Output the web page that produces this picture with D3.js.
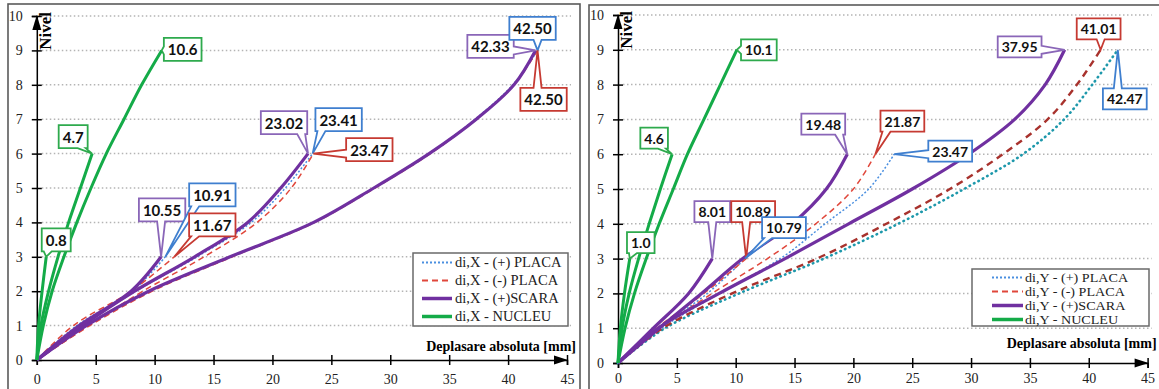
<!DOCTYPE html>
<html>
<head>
<meta charset="utf-8">
<script src="https://cdn.jsdelivr.net/npm/d3@7"></script>
<style>
body{margin:0;background:#fff;}
svg{display:block;}
</style>
</head>
<body>
<svg id="chart"></svg>
<script>
// levels (floors) and axis ticks
const levels = [0,1,2,3,4,5,6,7,8,9];
const xTicks = [0,5,10,15,20,25,30,35,40,45];
const yTicks = [0,1,2,3,4,5,6,7,8,9,10];

const seriesKeys = ["placaPos","placaNeg","scara","nucleu"];
const seriesNames = ["(+) PLACA","(-) PLACA","(+)SCARA","NUCLEU"];

// displacements [mm] per level, for the 3, 6 and 9 level structures
// direction X
const xPlacaPos = [
  [0,3.4,8.1,10.91],
  [0,3.8,8.4,13.6,18.2,21.1,23.41],
  [0,4.2,9.5,16.4,23.5,28.6,33.3,37.2,40.4,42.50]
];
const xPlacaNeg = [
  [0,3.1,8.0,11.67],
  [0,4.4,9.0,14.2,18.7,21.6,23.47],
  [0,4.5,9.8,16.6,23.6,28.7,33.4,37.3,40.5,42.50]
];
const xScara = [
  [0,3.6,8.0,10.55],
  [0,3.9,8.3,13.4,17.9,20.7,23.02],
  [0,4.2,9.5,16.4,23.5,28.6,33.3,37.3,40.5,42.33]
];
const xNucleu = [
  [0,0.15,0.45,0.8],
  [0,0.35,1.0,1.8,2.7,3.7,4.7],
  [0,0.55,1.3,2.3,3.4,4.6,5.9,7.4,8.9,10.6]
];
// direction Y
const yPlacaPos = [
  [0,3.5,7.6,10.79],
  [0,3.7,8.6,13.8,17.6,21.3,23.47],
  [0,4.0,10.3,17.5,23.8,29.4,34.4,37.9,40.3,42.47]
];
const yPlacaNeg = [
  [0,3.3,7.3,10.89],
  [0,3.6,8.0,12.7,16.8,20.0,21.87],
  [0,3.8,9.7,16.9,22.8,28.2,32.7,36.5,39.0,41.01]
];
const yScara = [
  [0,3.0,6.0,8.01],
  [0,3.5,7.1,10.6,14.8,17.7,19.48],
  [0,3.4,8.6,14.2,19.6,25.0,29.8,33.7,36.3,37.95]
];
const yNucleu = [
  [0,0.2,0.55,1.0],
  [0,0.35,0.95,1.75,2.65,3.6,4.6],
  [0,0.6,1.4,2.4,3.5,4.7,5.9,7.3,8.7,10.1]
];

// styles
const STYLE = {
  placaPos:{color:"#4a8fe0",width:1.5,dash:"2,2",box:"#3f7fcf"},
  placaNeg:{color:"#e0473b",width:1.5,dash:"6,4",box:"#c63a32"},
  scara:{color:"#7030a0",width:3.2,dash:null,box:"#8a66b8"},
  nucleu:{color:"#14ab48",width:3,dash:null,box:"#2eaa4d"}
};

// callout box centre offsets from the pointed value: [series, structure, dx, dy]
const leftCallouts = [
  ["nucleu",0,10,-17],["nucleu",1,-19,-17],["nucleu",2,21,-1],
  ["scara",0,1,-47],["placaPos",0,47,-62],["placaNeg",0,38,-32],
  ["scara",1,-24,-31],["placaPos",1,26,-34],["placaNeg",1,56,-4],
  ["scara",2,-45,-4],["placaPos",2,-5,-22],["placaNeg",2,6,49]
];
const rightCallouts = [
  ["nucleu",0,11,-16],["nucleu",1,-18,-16],["nucleu",2,22,0],
  ["scara",0,0,-47],["placaNeg",0,7,-47],["placaPos",0,39,-31],
  ["scara",1,-24,-30],["placaNeg",1,27,-33],["placaPos",1,56,-3],
  ["scara",2,-45,-3],["placaNeg",2,-2,-21],["placaPos",2,7,49]
];

const W = 1159, H = 389;
const svg = d3.select("#chart").attr("width",W).attr("height",H);

const panels = [
  {
    dir:"X",
    data:{placaPos:xPlacaPos,placaNeg:xPlacaNeg,scara:xScara,nucleu:xNucleu},
    frame:[8,4,572,400],
    xRange:[36.8,567],
    yRange:[360,16],
    xPad:9,
    legend:{x:413,y:253,w:155,h:73,first:9.5,row:18,font:14.5,sx:1,s1:9,s2:39,tx:42},
    titleDy:-9,
    callouts:leftCallouts,
    boxH:23, boxFont:15,
    heavy9:false
  },
  {
    dir:"Y",
    data:{placaPos:yPlacaPos,placaNeg:yPlacaNeg,scara:yScara,nucleu:yNucleu},
    frame:[589,5,572,400],
    xRange:[618,1147.6],
    yRange:[363,15],
    xPad:5,
    legend:{x:972,y:269,w:177,h:57,first:8.5,row:14,font:12.5,sx:1.13,s1:20,s2:51,tx:53},
    titleDy:-15,
    callouts:rightCallouts,
    boxH:21, boxFont:14,
    heavy9:true
  }
];

function calloutPath(x0,y0,w,h,tx,ty){
  const x1 = x0+w, y1 = y0+h;
  const cx = x0+w/2, cy = y0+h/2;
  const nx = (tx-cx)/(w/2), ny = (ty-cy)/(h/2);
  const hb = 4;
  const clamp = (v,a,b)=>Math.max(a,Math.min(b,v));
  let pts;
  if(Math.abs(ny) >= Math.abs(nx)){
    const bx = clamp(tx,x0+hb+2,x1-hb-2);
    if(ny > 0){
      pts = [[x0,y0],[x1,y0],[x1,y1],[bx+hb,y1],[tx,ty],[bx-hb,y1],[x0,y1]];
    } else {
      pts = [[x0,y0],[bx-hb,y0],[tx,ty],[bx+hb,y0],[x1,y0],[x1,y1],[x0,y1]];
    }
  } else {
    const by = clamp(ty,y0+hb+2,y1-hb-2);
    if(nx > 0){
      pts = [[x0,y0],[x1,y0],[x1,by-hb],[tx,ty],[x1,by+hb],[x1,y1],[x0,y1]];
    } else {
      pts = [[x0,y0],[x1,y0],[x1,y1],[x0,y1],[x0,by+hb],[tx,ty],[x0,by-hb]];
    }
  }
  return "M" + pts.map(p=>p.join(",")).join("L") + "Z";
}

panels.forEach(p=>{

  const g = svg.append("g");

  // frame
  g.append("rect")
    .attr("x",p.frame[0]).attr("y",p.frame[1])
    .attr("width",p.frame[2]).attr("height",p.frame[3])
    .attr("fill","none").attr("stroke","#5a5a5a").attr("stroke-width",1.6);

  const x = d3.scaleLinear().domain([0,45]).range(p.xRange);
  const y = d3.scaleLinear().domain([0,10]).range(p.yRange);

  // dotted grid
  g.append("g")
    .selectAll("line")
    .data(yTicks.filter(d=>d>0))
    .join("line")
    .attr("x1",x(0)+5).attr("x2",x(45)+4)
    .attr("y1",d=>y(d)).attr("y2",d=>y(d))
    .attr("stroke","#b4b4b4").attr("stroke-width",1.5)
    .attr("stroke-dasharray","1.5,2.5");

  // axes
  const yAxis = g.append("g")
    .attr("transform",`translate(${x(0)},0)`)
    .call(d3.axisLeft(y).tickValues(yTicks).tickSizeOuter(0).tickSize(5).tickPadding(9));
  yAxis.selectAll(".tick line").attr("x1",-5).attr("x2",5);

  const xAxis = g.append("g")
    .attr("transform",`translate(0,${y(0)})`)
    .call(d3.axisBottom(x).tickValues(xTicks).tickSizeOuter(0).tickSize(5).tickPadding(p.xPad));
  xAxis.selectAll(".tick line").attr("y1",-5).attr("y2",5);

  [yAxis,xAxis].forEach(a=>{
    a.select(".domain").attr("stroke","#000").attr("stroke-width",1.5);
    a.selectAll(".tick line").attr("stroke","#000").attr("stroke-width",1.5);
    a.selectAll(".tick text")
      .attr("fill","#222")
      .style("font-family","'Liberation Serif','Times New Roman',serif")
      .style("font-size","14px");
  });

  // arrow heads
  g.append("path")
    .attr("d",`M${x(0)},${y(10)-1}L${x(0)-4.5},${y(10)+14}L${x(0)+4.5},${y(10)+14}Z`)
    .attr("fill","#000");
  g.append("path")
    .attr("d",`M${x(45)+1},${y(0)}L${x(45)-13},${y(0)-4.5}L${x(45)-13},${y(0)+4.5}Z`)
    .attr("fill","#000");

  // axis titles
  g.append("text")
    .attr("transform",`translate(${x(0)+14},${y(10)-4}) rotate(-90)`)
    .attr("text-anchor","end")
    .style("font-family","'Liberation Serif','Times New Roman',serif")
    .style("font-weight","bold")
    .style("font-size","17px")
    .text("Nivel");

  g.append("text")
    .attr("x",x(45)+9).attr("y",y(0)+p.titleDy)
    .attr("text-anchor","end")
    .style("font-family","'Liberation Serif','Times New Roman',serif")
    .style("font-weight","bold")
    .style("font-size","14px")
    .text("Deplasare absoluta [mm]");

  // curves
  const line = d3.line()
    .x(d=>x(d[0]))
    .y(d=>y(d[1]))
    .curve(d3.curveCatmullRom.alpha(0.5));

  seriesKeys.forEach(key=>{
    const st = STYLE[key];
    p.data[key].forEach((vals,i)=>{
      const pts = vals.map((v,k)=>[v,levels[k]]);
      let color = st.color, width = st.width, dash = st.dash, cap = "butt";
      if(p.heavy9 && i===2 && key==="placaPos"){
        color = "#1d98ab"; width = 2.6; dash = "0.5,4.5"; cap = "round";
      }
      if(p.heavy9 && i===2 && key==="placaNeg"){
        color = "#a8322d"; width = 2.4; dash = "7,5";
      }
      g.append("path")
        .datum(pts)
        .attr("d",line)
        .attr("fill","none")
        .attr("stroke",color)
        .attr("stroke-width",width)
        .attr("stroke-linecap",cap)
        .attr("stroke-dasharray",dash);
    });
  });

  // legend
  const L = p.legend;
  const lg = g.append("g");
  lg.append("rect")
    .attr("x",L.x).attr("y",L.y).attr("width",L.w).attr("height",L.h)
    .attr("fill","#fff").attr("stroke","#6a6a6a").attr("stroke-width",1.5);
  seriesKeys.forEach((key,i)=>{
    const st = STYLE[key];
    const cy = L.y + L.first + L.row*i;
    lg.append("line")
      .attr("x1",L.x+L.s1).attr("x2",L.x+L.s2)
      .attr("y1",cy).attr("y2",cy)
      .attr("stroke",st.color)
      .attr("stroke-width",key==="scara"||key==="nucleu"?3.5:1.8)
      .attr("stroke-dasharray",st.dash);
    lg.append("text")
      .attr("transform",`translate(${L.x+L.tx},${cy+L.font*0.32}) scale(${L.sx},1)`)
      .style("font-family","'Liberation Serif','Times New Roman',serif")
      .style("font-size",L.font+"px")
      .attr("fill","#222")
      .text(`di,${p.dir} - ${seriesNames[i]}`);
  });

  // callouts
  p.callouts.forEach(c=>{
    const [key,i,dx,dy] = c;
    const vals = p.data[key][i];
    const top = vals[vals.length-1];
    const lev = levels[vals.length-1];
    const tx = x(top), ty = y(lev);
    const label = top.toFixed(key==="nucleu"?1:2);
    const cg = g.append("g");
    const path = cg.append("path");
    const t = cg.append("text")
      .attr("x",tx+dx).attr("y",ty+dy)
      .attr("text-anchor","middle")
      .attr("dominant-baseline","central")
      .style("font-family","Lato,'Open Sans',sans-serif")
      .style("font-weight","bold")
      .style("font-size",p.boxFont+"px")
      .attr("fill","#111")
      .text(label);
    const tw = t.node().getComputedTextLength();
    const bw = tw + 8, bh = p.boxH;
    path.attr("d",calloutPath(tx+dx-bw/2,ty+dy-bh/2,bw,bh,tx,ty))
      .attr("fill","#fff")
      .attr("stroke",STYLE[key].box)
      .attr("stroke-width",1.8)
      .attr("stroke-linejoin","miter");
  });
});
</script>
</body>
</html>
